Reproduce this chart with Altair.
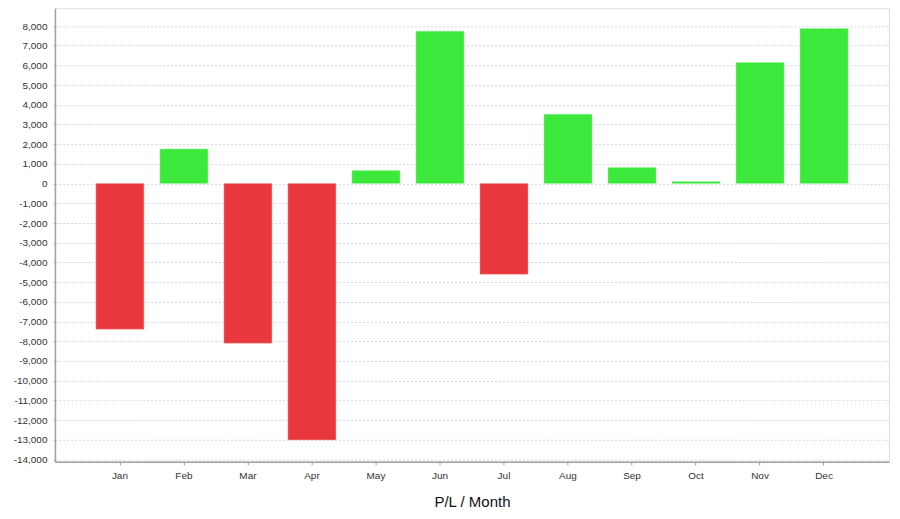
import altair as alt
import pandas as pd

months = ["Jan", "Feb", "Mar", "Apr", "May", "Jun", "Jul", "Aug", "Sep", "Oct", "Nov", "Dec"]
pl = [-7390, 1760, -8100, -13010, 660, 7740, -4600, 3525, 815, 105, 6145, 7870]
y_ticks = [-14000, -13000, -12000, -11000, -10000, -9000, -8000, -7000, -6000, -5000,
           -4000, -3000, -2000, -1000, 0, 1000, 2000, 3000, 4000, 5000, 6000, 7000, 8000]

df = pd.DataFrame({"month": months, "pl": pl})

GREEN = "#3BE83B"
RED = "#E8383D"
FONT = "Liberation Sans"

chart = alt.Chart(df).mark_bar(strokeWidth=0.8, strokeOpacity=0.6).encode(
    x=alt.X(
        "month:N",
        sort=months,
        scale=alt.Scale(paddingInner=0.25, paddingOuter=0.64),
        axis=alt.Axis(
            title="P/L / Month",
            titleFontSize=15,
            titleFontWeight="normal",
            titleColor="#111111",
            titleFont=FONT,
            titlePadding=14,
            labelAngle=0,
            labelFont=FONT,
            labelFontSize=10,
            labelColor="#333333",
            labelPadding=6,
            tickSize=3,
            tickColor="#999999",
            domainColor="#a0a0a0",
            domainWidth=1.5,
            grid=False,
        ),
    ),
    y=alt.Y(
        "pl:Q",
        scale=alt.Scale(domain=[-14120, 8900], nice=False, zero=False),
        axis=alt.Axis(
            title=None,
            values=y_ticks,
            labelExpr="(datum.value < 0 ? '-' : '') + format(abs(datum.value), ',')",
            labelFont=FONT,
            labelFontSize=10,
            labelColor="#333333",
            labelPadding=6,
            tickSize=2,
            tickColor="#bbbbbb",
            domainColor="#a0a0a0",
            domainWidth=1.5,
            grid=True,
            gridColor="#d4d4d4",
            gridDash=[2, 2],
            gridWidth=1,
        ),
    ),
    color=alt.condition(alt.datum.pl >= 0, alt.value(GREEN), alt.value(RED)),
    stroke=alt.condition(alt.datum.pl >= 0, alt.value("#9af59a"), alt.value("#f29a9d")),
).properties(
    width=835,
    height=454,
    autosize=alt.AutoSizeParams(type="none"),
    padding={"left": 47, "top": 0, "right": 3, "bottom": 57},
).configure_view(
    stroke="#c8c8c8",
    strokeWidth=1.5,
).configure(background="white")

chart.save("out.html", embed_options={"renderer": "svg", "actions": False})
